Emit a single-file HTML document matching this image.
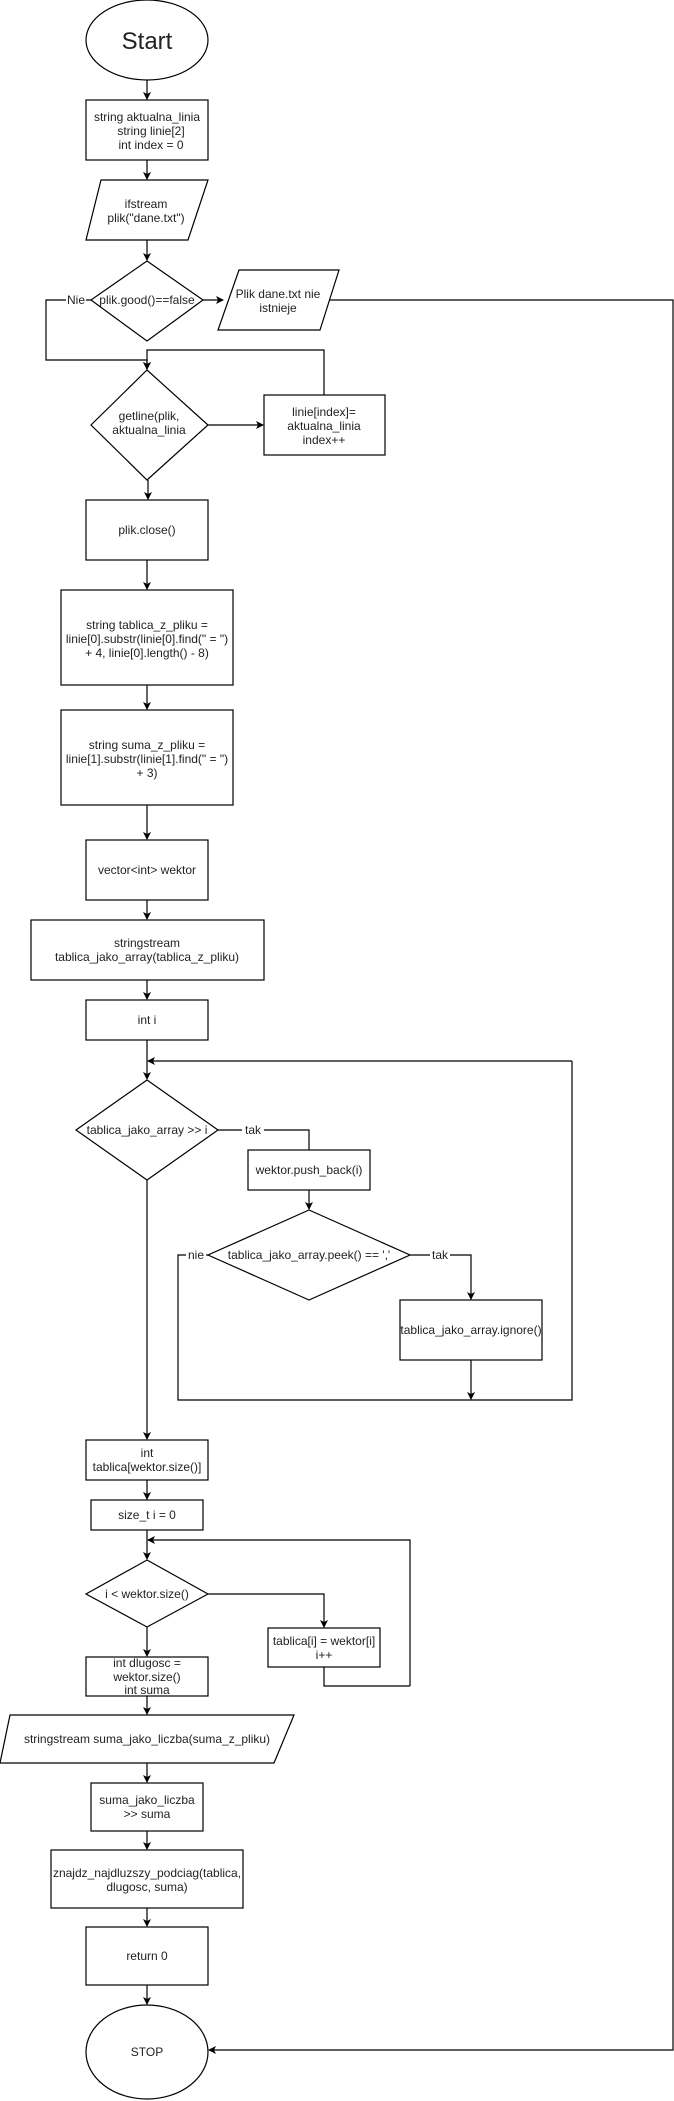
<!DOCTYPE html>
<html><head><meta charset="utf-8"><style>
html,body{margin:0;padding:0;background:#fff}
svg{display:block}
text{font-family:"Liberation Sans",Arial,sans-serif;font-size:12px;fill:#222;text-anchor:middle}
</style></head><body>
<svg width="674" height="2101" viewBox="0 0 674 2101" xmlns="http://www.w3.org/2000/svg">
<defs><marker id="a" markerWidth="8" markerHeight="8" refX="7" refY="4" orient="auto" markerUnits="userSpaceOnUse"><path d="M0,0 L8,4 L0,8 L2,4 z" fill="#000"/></marker></defs>
<g fill="#fff" stroke="#000" stroke-width="1.2">
<ellipse cx="147" cy="40" rx="61" ry="40"/>
<rect x="86" y="100" width="122" height="60"/>
<polygon points="101,180 208,180 188,240 86,240"/>
<polygon points="147,261 203,300 147,341 91,300"/>
<polygon points="239,270 339,270 320,330 218,330"/>
<polygon points="147,370 208,425 147,480 91,425"/>
<rect x="264" y="395" width="121" height="60"/>
<rect x="86" y="500" width="122" height="60"/>
<rect x="61" y="590" width="172" height="95"/>
<rect x="61" y="710" width="172" height="95"/>
<rect x="86" y="840" width="122" height="60"/>
<rect x="31" y="920" width="233" height="60"/>
<rect x="86" y="1000" width="122" height="40"/>
<polygon points="147,1080 218,1130 147,1180 76,1130"/>
<rect x="248" y="1150" width="122" height="40"/>
<polygon points="309,1210 410,1255 309,1300 208,1255"/>
<rect x="400" y="1300" width="142" height="60"/>
<rect x="86" y="1440" width="122" height="40"/>
<rect x="91" y="1500" width="112" height="30"/>
<polygon points="147,1560 208,1594 147,1627 86,1594"/>
<rect x="268" y="1628" width="112" height="39"/>
<rect x="86" y="1657" width="122" height="39"/>
<polygon points="10,1715 294,1715 274,1763 0,1763"/>
<rect x="91" y="1783" width="112" height="48"/>
<rect x="51" y="1850" width="192" height="58"/>
<rect x="86" y="1927" width="122" height="58"/>
<ellipse cx="147" cy="2052" rx="61" ry="47"/>
</g>
<g fill="none" stroke="#000" stroke-width="1.2">
<path d="M147,80 V99" marker-end="url(#a)"/>
<path d="M147,160 V179" marker-end="url(#a)"/>
<path d="M147,240 V260" marker-end="url(#a)"/>
<path d="M203,300 H223" marker-end="url(#a)"/>
<path d="M91,300 H46 V360 H147 V369" marker-end="url(#a)"/>
<path d="M330,300 H673 V2050 H209" marker-end="url(#a)"/>
<path d="M208,425 H263" marker-end="url(#a)"/>
<path d="M324,395 V350 H147 V369" marker-end="url(#a)"/>
<path d="M148,480 V499" marker-end="url(#a)"/>
<path d="M147,560 V589" marker-end="url(#a)"/>
<path d="M147,685 V709" marker-end="url(#a)"/>
<path d="M147,805 V839" marker-end="url(#a)"/>
<path d="M147,900 V919" marker-end="url(#a)"/>
<path d="M147,980 V999" marker-end="url(#a)"/>
<path d="M147,1040 V1079" marker-end="url(#a)"/>
<path d="M572,1061 H148" marker-end="url(#a)"/>
<path d="M218,1130 H309 V1150"/>
<path d="M309,1190 V1209" marker-end="url(#a)"/>
<path d="M208,1255 H178 V1400 H572 V1061"/>
<path d="M410,1255 H471 V1299" marker-end="url(#a)"/>
<path d="M471,1360 V1399" marker-end="url(#a)"/>
<path d="M147,1180 V1439" marker-end="url(#a)"/>
<path d="M147,1480 V1499" marker-end="url(#a)"/>
<path d="M147,1530 V1559" marker-end="url(#a)"/>
<path d="M410,1686 V1540 H148" marker-end="url(#a)"/>
<path d="M208,1594 H324 V1627" marker-end="url(#a)"/>
<path d="M324,1667 V1686 H410"/>
<path d="M147,1627 V1656" marker-end="url(#a)"/>
<path d="M147,1696 V1714" marker-end="url(#a)"/>
<path d="M147,1763 V1782" marker-end="url(#a)"/>
<path d="M147,1831 V1849" marker-end="url(#a)"/>
<path d="M147,1908 V1926" marker-end="url(#a)"/>
<path d="M147,1985 V2004" marker-end="url(#a)"/>
</g>
<g>
<rect x="66" y="293" width="20" height="14" fill="#fff"/>
<rect x="242" y="1123" width="22" height="14" fill="#fff"/>
<rect x="186" y="1248" width="20" height="14" fill="#fff"/>
<rect x="430" y="1248" width="20" height="14" fill="#fff"/>
</g>
<text x="147" y="49" style="font-size:24px">Start</text>
<text x="147" y="121">string aktualna_linia</text>
<text x="151" y="135">string linie[2]</text>
<text x="151" y="149">int index = 0</text>
<text x="146" y="208">ifstream</text>
<text x="146" y="222">plik("dane.txt")</text>
<text x="147" y="304">plik.good()==false</text>
<text x="76" y="304">Nie</text>
<text x="278" y="298">Plik dane.txt nie</text>
<text x="278" y="312">istnieje</text>
<text x="149" y="420">getline(plik,</text>
<text x="149" y="434">aktualna_linia</text>
<text x="324" y="416">linie[index]=</text>
<text x="324" y="430">aktualna_linia</text>
<text x="324" y="444">index++</text>
<text x="147" y="534">plik.close()</text>
<text x="147" y="629">string tablica_z_pliku =</text>
<text x="147" y="643">linie[0].substr(linie[0].find(" = ")</text>
<text x="147" y="657">+ 4, linie[0].length() - 8)</text>
<text x="147" y="749">string suma_z_pliku =</text>
<text x="147" y="763">linie[1].substr(linie[1].find(" = ")</text>
<text x="147" y="777">+ 3)</text>
<text x="147" y="874">vector&lt;int&gt; wektor</text>
<text x="147" y="947">stringstream</text>
<text x="147" y="961">tablica_jako_array(tablica_z_pliku)</text>
<text x="147" y="1024">int i</text>
<text x="147" y="1134">tablica_jako_array &gt;&gt; i</text>
<text x="253" y="1134">tak</text>
<text x="309" y="1174">wektor.push_back(i)</text>
<text x="309" y="1259">tablica_jako_array.peek() == ','</text>
<text x="196" y="1259">nie</text>
<text x="440" y="1259">tak</text>
<text x="471" y="1334">tablica_jako_array.ignore()</text>
<text x="147" y="1457">int</text>
<text x="147" y="1471">tablica[wektor.size()]</text>
<text x="147" y="1519">size_t i = 0</text>
<text x="147" y="1598">i &lt; wektor.size()</text>
<text x="324" y="1645">tablica[i] = wektor[i]</text>
<text x="324" y="1659">i++</text>
<text x="147" y="1667">int dlugosc =</text>
<text x="147" y="1681">wektor.size()</text>
<text x="147" y="1694">int suma</text>
<text x="147" y="1743">stringstream suma_jako_liczba(suma_z_pliku)</text>
<text x="147" y="1804">suma_jako_liczba</text>
<text x="147" y="1818">&gt;&gt; suma</text>
<text x="147" y="1877">znajdz_najdluzszy_podciag(tablica,</text>
<text x="147" y="1891">dlugosc, suma)</text>
<text x="147" y="1960">return 0</text>
<text x="147" y="2056">STOP</text>
</svg>
</body></html>
